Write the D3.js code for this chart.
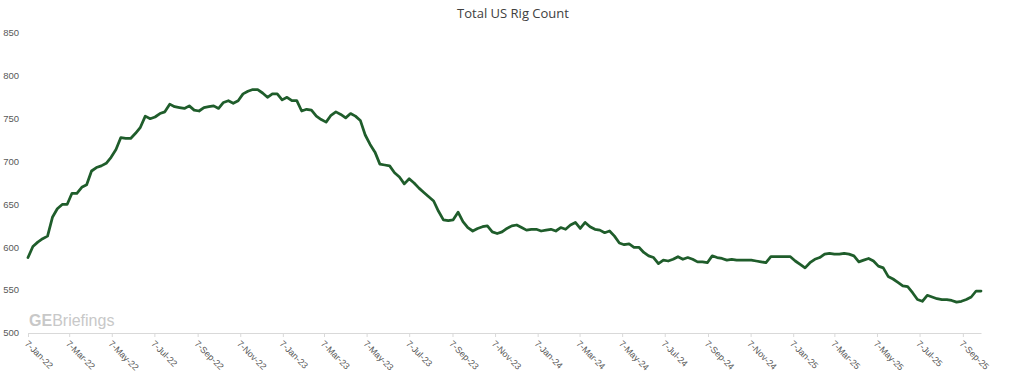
<!DOCTYPE html>
<html>
<head>
<meta charset="utf-8">
<script src="https://cdn.jsdelivr.net/npm/d3@7"></script>
<style>
  html, body { margin: 0; padding: 0; background: #fff; }
  #chart { width: 1024px; height: 386px; }
  text { font-family: "Liberation Sans", Arial, sans-serif; }
</style>
</head>
<body>
<div id="chart"></div>
<script>
// Weekly Baker Hughes totals, first report 7-Jan-22, one per week
const firstWeek = "2022-01-07";
const rigs2022 = [588,601,606,610,613,635,645,650,650,663,663,670,673,689,693,695,698,705,714,728,
  727,727,733,740,753,750,752,756,758,767,764,763,762,765,760,759,763,764,765,762,
  769,771,768,771,779,782,784,784,780,775,779,779];
const rigs2023 = [772,775,771,771,759,761,760,753,749,746,754,758,755,751,756,753,748,731,720,711,
  697,696,695,687,682,674,680,675,669,664,659,654,642,632,631,632,641,630,623,619,
  622,624,625,618,616,618,622,625,626,623,620,621];
const rigs2024 = [621,619,620,621,619,623,621,626,629,622,629,624,621,620,617,619,613,605,603,604,
  600,600,594,590,588,581,585,584,586,589,586,588,586,583,583,582,590,588,587,585,
  586,585,585,585,585,584,583,582,589,589,589,589];
const rigs2025 = [589,584,580,576,582,586,588,592,593,592,592,593,592,590,583,585,587,584,578,576,
  566,563,559,555,554,547,539,537,544,542,540,539,539,538,536,537,539,542,549,549];

const yTicks = [500, 550, 600, 650, 700, 750, 800, 850];
// x ticks: 7th of every second month
const tickMonths = d3.range(0, 45, 2);

const values = rigs2022.concat(rigs2023, rigs2024, rigs2025);
const start = d3.timeParse("%Y-%m-%d")(firstWeek);
const data = values.map((v, i) => ({ date: d3.timeDay.offset(start, i * 7), v }));
const tickDates = tickMonths.map((m) => new Date(2022, m, 7));

const width = 1024, height = 386;
const svg = d3.select("#chart").append("svg")
  .attr("width", width).attr("height", height);

const x = d3.scaleTime()
  .domain(d3.extent(data, (d) => d.date))
  .range([28, 981]);
const y = d3.scaleLinear().domain([500, 850]).range([333, 33]);

// title
svg.append("text")
  .attr("x", 513).attr("y", 18)
  .attr("text-anchor", "middle")
  .style("font-family", "'Open Sans', sans-serif")
  .style("font-size", "13px")
  .style("fill", "#404040")
  .text("Total US Rig Count");

// y labels (no gridlines in the original)
svg.append("g").selectAll("text")
  .data(yTicks)
  .enter().append("text")
  .attr("x", 19)
  .attr("y", (d) => y(d))
  .attr("dy", "0.35em")
  .attr("text-anchor", "end")
  .style("font-size", "9.5px")
  .style("fill", "#595959")
  .text((d) => d);

// x axis
const xAxis = svg.append("g")
  .attr("transform", `translate(0,${y(500)})`)
  .call(d3.axisBottom(x).tickValues(tickDates).tickSize(4).tickSizeOuter(0)
    .tickFormat(d3.timeFormat("%-d-%b-%y")));
xAxis.select(".domain").attr("stroke", "#d9d9d9");
xAxis.selectAll(".tick line").attr("stroke", "#d9d9d9");
xAxis.selectAll(".tick text")
  .attr("text-anchor", "start")
  .attr("x", 0).attr("y", 0).attr("dy", "0.35em")
  .attr("transform", "translate(-2,9) rotate(45)")
  .style("font-family", "'Liberation Sans', Arial, sans-serif")
  .style("font-size", "9px")
  .style("fill", "#595959");

// watermark
const wm = svg.append("text")
  .attr("x", 29).attr("y", 326)
  .style("font-size", "16px")
  .style("fill", "#c8c8c8");
wm.append("tspan").style("font-weight", "bold").text("GE");
wm.append("tspan").text("Briefings");

// line
const line = d3.line()
  .x((d) => x(d.date))
  .y((d) => y(d.v));

svg.append("path")
  .datum(data)
  .attr("fill", "none")
  .attr("stroke", "#1f5d2b")
  .attr("stroke-width", 2.75)
  .attr("stroke-linejoin", "round")
  .attr("stroke-linecap", "round")
  .attr("d", line);
</script>
</body>
</html>
